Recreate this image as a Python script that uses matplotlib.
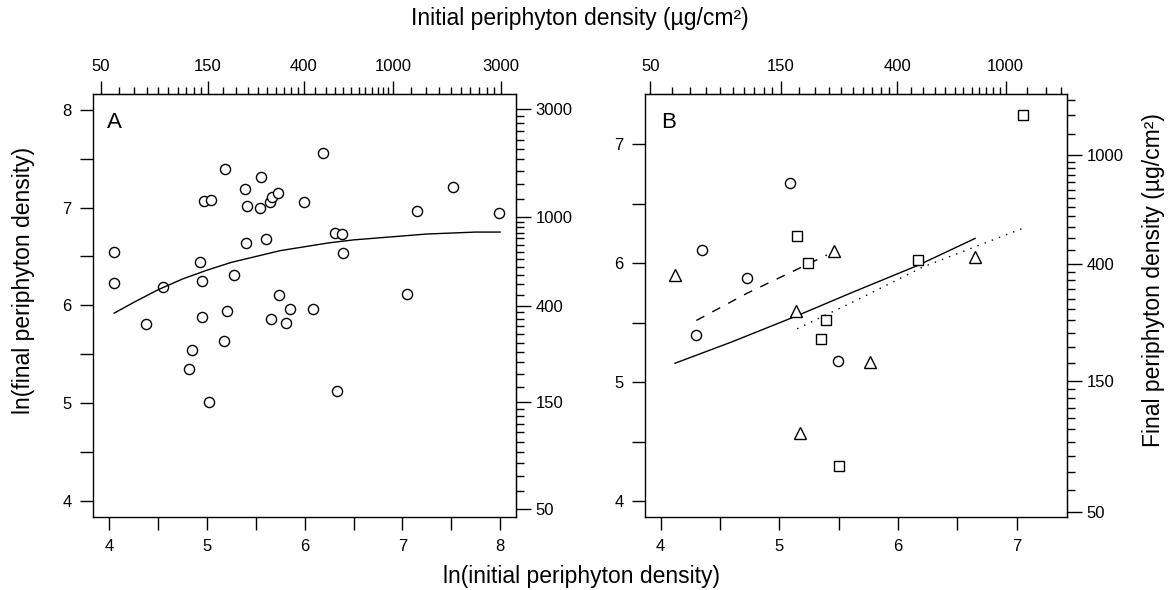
import matplotlib.pyplot as plt
import numpy as np

plt.rcParams['font.family'] = ['Liberation Sans', 'DejaVu Sans']

# Panel A: all enclosures (ln initial, ln final)
a_x = [4.05, 4.93, 4.97, 5.04, 5.18, 5.39, 5.41, 5.55, 5.54, 5.64, 5.67, 5.73,
       5.40, 5.60, 5.99, 6.19, 6.31, 6.38, 6.39, 7.15, 7.52, 7.99,
       4.05, 4.55, 4.95, 5.28, 4.38, 4.95, 5.20, 4.85, 4.82, 5.17, 5.02,
       5.74, 5.66, 5.85, 5.81, 6.08, 6.33, 7.05]
a_y = [6.55, 6.44, 7.07, 7.08, 7.40, 7.19, 7.02, 7.31, 7.00, 7.06, 7.11, 7.15,
       6.64, 6.68, 7.06, 7.56, 6.74, 6.73, 6.54, 6.97, 7.21, 6.95,
       6.23, 6.19, 6.25, 6.31, 5.81, 5.88, 5.94, 5.54, 5.35, 5.63, 5.01,
       6.11, 5.86, 5.96, 5.82, 5.96, 5.12, 6.12]

# fitted curve, panel A
a_fit_x = [4.05, 4.25, 4.5, 4.75, 5.0, 5.25, 5.5, 5.75, 6.0, 6.25, 6.5, 6.75,
           7.0, 7.25, 7.5, 7.75, 8.0]
a_fit_y = [5.92, 6.03, 6.16, 6.27, 6.36, 6.44, 6.50, 6.56, 6.60, 6.64, 6.67,
           6.69, 6.71, 6.73, 6.74, 6.75, 6.75]

# Panel B: three groups
b_circ_x = [5.09, 4.35, 4.73, 4.30, 5.49]
b_circ_y = [6.68, 6.11, 5.88, 5.40, 5.18]
b_sq_x = [7.05, 5.15, 5.24, 6.17, 5.39, 5.35, 5.50]
b_sq_y = [7.25, 6.23, 6.00, 6.03, 5.52, 5.36, 4.30]
b_tri_x = [5.46, 6.65, 4.12, 5.14, 5.76, 5.17]
b_tri_y = [6.10, 6.05, 5.90, 5.60, 5.17, 4.57]

b_solid_x = [4.12, 4.60, 5.15, 5.60, 6.16, 6.65]
b_solid_y = [5.16, 5.34, 5.56, 5.75, 5.98, 6.21]
b_dash_x = [4.30, 4.73, 5.40]
b_dash_y = [5.52, 5.75, 6.07]
b_dot_x = [5.15, 5.65, 6.21, 7.04]
b_dot_y = [5.45, 5.69, 5.97, 6.29]

# log-scale tick values for the density axes
log_major = [50, 150, 400, 1000, 3000]
log_minor = (list(range(60, 150, 10)) + list(range(175, 400, 25)) +
             list(range(450, 1000, 50)) + list(range(1200, 3000, 200)))


def setup(ax, lim, lin_max, log_max):
    ax.set_xlim(lim)
    ax.set_ylim(lim)
    ticks = np.arange(4, lin_max + 0.01, 0.5)
    labels = [str(int(t)) if t == int(t) else '' for t in ticks]
    ax.set_xticks(ticks)
    ax.set_xticklabels(labels)
    ax.set_yticks(ticks)
    ax.set_yticklabels(labels)
    ax.tick_params(direction='out', length=9.5, width=1, labelsize=12, pad=6)
    for s in ax.spines.values():
        s.set_linewidth(1)

    maj = [v for v in log_major if v <= log_max]
    mnr = [v for v in log_minor if v <= log_max]

    top = ax.twiny()
    top.set_xlim(lim)
    top.set_xticks(np.log(maj))
    top.set_xticklabels([str(v) for v in maj])
    top.set_xticks(np.log(mnr), minor=True)
    top.tick_params(which='major', direction='out', length=9.5, width=1, labelsize=12, pad=5)
    top.tick_params(which='minor', direction='out', length=5, width=1)
    for s in ['left', 'right', 'bottom']:
        top.spines[s].set_visible(False)

    right = ax.twinx()
    right.set_ylim(lim)
    right.set_yticks(np.log(maj))
    right.set_yticklabels([str(v) for v in maj])
    right.set_yticks(np.log(mnr), minor=True)
    right.tick_params(which='major', direction='out', length=11, width=1, labelsize=12, pad=3)
    right.tick_params(which='minor', direction='out', length=5.5, width=1)
    for s in ['left', 'top', 'bottom']:
        right.spines[s].set_visible(False)


fig = plt.figure(figsize=(11.68, 5.9), dpi=100)
ax1 = fig.add_axes([0.0796, 0.1237, 0.3622, 0.7169])
ax2 = fig.add_axes([0.5522, 0.1237, 0.3613, 0.7169])

mk = dict(linestyle='none', markerfacecolor='white', markeredgecolor='black', markeredgewidth=1)

# panel A
ax1.plot(a_x, a_y, marker='o', markersize=7.3, **mk)
ax1.plot(a_fit_x, a_fit_y, color='black', lw=1)
ax1.text(0.032, 0.958, 'A', transform=ax1.transAxes, fontsize=16, va='top', ha='left')
setup(ax1, (3.833, 8.163), 8, 3000)

# panel B
ax2.plot(b_solid_x, b_solid_y, color='black', lw=1)
ax2.plot(b_dash_x, b_dash_y, color='black', lw=1, dashes=(6.5, 6.5))
ax2.plot(b_dot_x, b_dot_y, color='black', lw=1, dashes=(1, 4.5))
ax2.plot(b_circ_x, b_circ_y, marker='o', markersize=7.3, **mk)
ax2.plot(b_sq_x, b_sq_y, marker='s', markersize=7.8, **mk)
ax2.plot(b_tri_x, b_tri_y, marker='^', markersize=8.6, **mk)
ax2.text(0.038, 0.958, 'B', transform=ax2.transAxes, fontsize=16, va='top', ha='left')
setup(ax2, (3.867, 7.424), 7, 1700)

fig.text(0.496, 1 - 18 / 590, 'Initial periphyton density (\u00b5g/cm\u00b2)',
         fontsize=16.5, ha='center', va='center')
fig.text(0.498, 1 - 577 / 590, 'ln(initial periphyton density)',
         fontsize=16.5, ha='center', va='center')
fig.text(0.0205, 0.524, 'ln(final periphyton density)',
         fontsize=16.5, ha='center', va='center', rotation=90)
fig.text(0.988, 0.525, 'Final periphyton density (\u00b5g/cm\u00b2)',
         fontsize=16.5, ha='center', va='center', rotation=90)

fig.savefig('out.png', dpi=100)
